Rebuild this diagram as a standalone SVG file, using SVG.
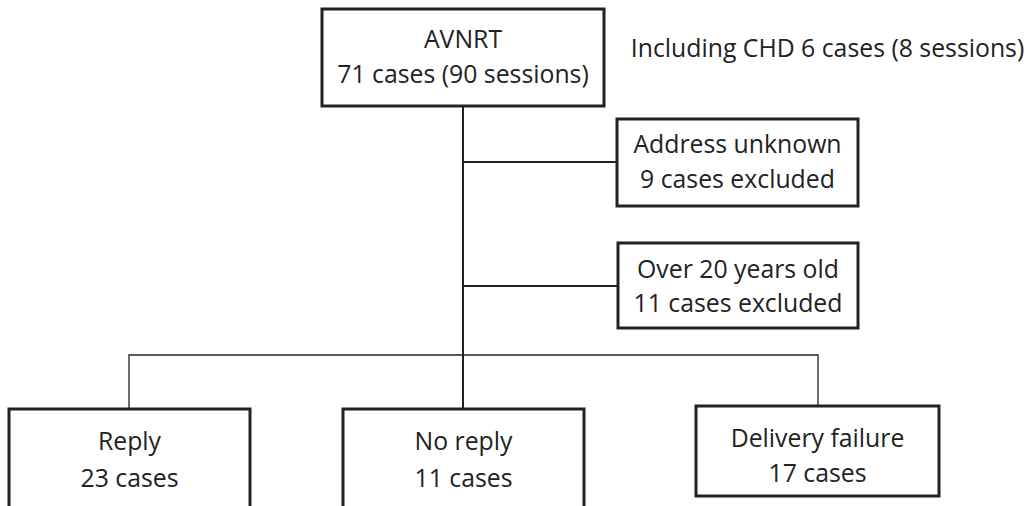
<svg xmlns="http://www.w3.org/2000/svg" width="1030" height="506" viewBox="0 0 1030 506">
<style>
.box{fill:#fff;stroke:#222;stroke-width:3}
.t{font-family:"Open Sans","Liberation Sans",sans-serif;font-size:24.8px;fill:#222;text-anchor:middle}
.c{stroke:#222;stroke-width:2;fill:none}
.thin{stroke:#222;stroke-width:1.3;fill:none}
</style>
<rect width="1030" height="506" fill="#fff"/>
<g id="connectors">
<line class="c" x1="463" y1="106" x2="463" y2="409"/>
<line class="c" x1="463" y1="162" x2="617" y2="162"/>
<line class="c" x1="463" y1="286" x2="618" y2="286"/>
<polyline class="thin" points="129,409 129,355 818,355 818,406"/>
</g>
<g id="avnrt">
<rect class="box" x="322" y="9" width="282" height="97"/>
<text class="t" x="463" y="48">AVNRT</text>
<text class="t" x="463" y="83">71 cases (90 sessions)</text>
</g>
<g id="note">
<text class="t" x="827.5" y="57">Including CHD 6 cases (8 sessions)</text>
</g>
<g id="address">
<rect class="box" x="617" y="119" width="241" height="87"/>
<text class="t" x="737.5" y="153">Address unknown</text>
<text class="t" x="737.5" y="188">9 cases excluded</text>
</g>
<g id="over20">
<rect class="box" x="618" y="243" width="240" height="85"/>
<text class="t" x="738" y="278">Over 20 years old</text>
<text class="t" x="738" y="312">11 cases excluded</text>
</g>
<g id="reply">
<rect class="box" x="9" y="409" width="241" height="110"/>
<text class="t" x="129.5" y="450">Reply</text>
<text class="t" x="129.5" y="487">23 cases</text>
</g>
<g id="noreply">
<rect class="box" x="343" y="409" width="241" height="110"/>
<text class="t" x="463.5" y="450">No reply</text>
<text class="t" x="463.5" y="487">11 cases</text>
</g>
<g id="delivery">
<rect class="box" x="696" y="406" width="243" height="90"/>
<text class="t" x="817.5" y="447">Delivery failure</text>
<text class="t" x="817.5" y="482">17 cases</text>
</g>
</svg>
